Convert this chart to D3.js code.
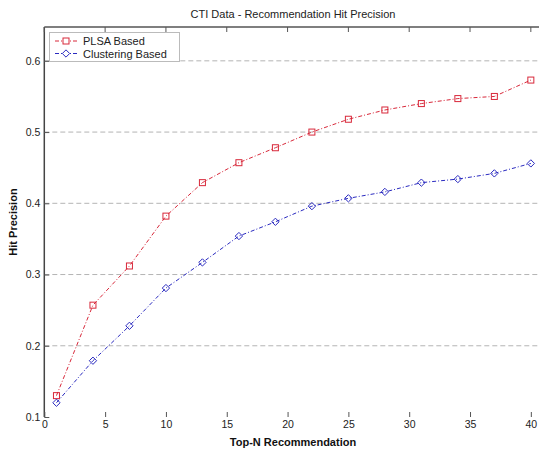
<!DOCTYPE html>
<html><head><meta charset="utf-8">
<script src="https://cdn.jsdelivr.net/npm/d3@7"></script>
<style>body{margin:0;background:#fff;} text{font-family:"Liberation Sans",Arial,sans-serif;}</style>
</head><body><div id="chart"></div>
<script>
const topN = [1,4,7,10,13,16,19,22,25,28,31,34,37,40];
const plsa = [0.130,0.257,0.312,0.382,0.429,0.457,0.478,0.500,0.518,0.531,0.540,0.547,0.550,0.573];
const clustering = [0.120,0.179,0.228,0.281,0.317,0.354,0.374,0.396,0.407,0.416,0.429,0.434,0.442,0.456];
const xTicks = [0,5,10,15,20,25,30,35,40];
const yTicks = [0.1,0.2,0.3,0.4,0.5,0.6];
const seriesNames = ["PLSA Based","Clustering Based"];
const seriesColors = ["#d8283a","#2a2ac0"];

const W=539,H=450;
const m={left:44.3,right:W,top:27,bottom:417};
const svg=d3.select("#chart").append("svg").attr("width",W).attr("height",H);
const x=d3.scaleLinear().domain([0,41]).range([m.left,543]);
const y=d3.scaleLinear().domain([0.1,0.6475]).range([m.bottom,m.top]);

// grid
svg.append("g").selectAll("line").data(yTicks.slice(1)).join("line")
 .attr("x1",m.left).attr("x2",W).attr("y1",d=>y(d)).attr("y2",d=>y(d))
 .attr("stroke","#b4b4b4").attr("stroke-width",1).attr("stroke-dasharray","5,3");

// frame: left and top
svg.append("line").attr("x1",m.left).attr("x2",m.left).attr("y1",m.top).attr("y2",m.bottom).attr("stroke","#444").attr("stroke-width",1.5);
svg.append("line").attr("x1",m.left).attr("x2",W).attr("y1",m.top).attr("y2",m.top).attr("stroke","#555").attr("stroke-width",1.5);

// y axis
const ya=svg.append("g").attr("transform",`translate(${m.left},0)`)
 .call(d3.axisLeft(y).tickValues(yTicks).tickSizeInner(-5).tickSizeOuter(0).tickPadding(4).tickFormat(d3.format(".1f")));
ya.select(".domain").remove();
ya.selectAll("line").attr("stroke","#555");
ya.selectAll("text").attr("font-size",10.5).attr("fill","#222").attr("font-family","Liberation Sans, Arial");

// x axis bottom
const xa=svg.append("g").attr("transform",`translate(0,${m.bottom})`)
 .call(d3.axisBottom(x).tickValues(xTicks).tickSizeInner(-5).tickSizeOuter(0).tickPadding(4).tickFormat(d3.format("d")));
xa.select(".domain").remove();
xa.selectAll("line").attr("stroke","#555");
xa.selectAll("text").attr("font-size",10.5).attr("fill","#222").attr("font-family","Liberation Sans, Arial");
// x ticks top
svg.append("g").selectAll("line").data(xTicks).join("line")
 .attr("x1",d=>x(d)).attr("x2",d=>x(d)).attr("y1",m.top).attr("y2",m.top+5).attr("stroke","#555");

// series
const line=d3.line().x((d,i)=>x(topN[i])).y(d=>y(d));
[plsa,clustering].forEach((s,k)=>{
  svg.append("path").datum(s).attr("d",line).attr("fill","none")
   .attr("stroke",seriesColors[k]).attr("stroke-width",1).attr("stroke-dasharray","4,2,1,2");
});
svg.append("g").selectAll("rect").data(plsa).join("rect")
 .attr("x",(d,i)=>x(topN[i])-3).attr("y",d=>y(d)-3).attr("width",6).attr("height",6)
 .attr("fill","none").attr("stroke",seriesColors[0]).attr("stroke-width",1);
const diamond=d3.symbol().type(d3.symbolDiamond2).size(34);
svg.append("g").selectAll("path").data(clustering).join("path")
 .attr("transform",(d,i)=>`translate(${x(topN[i])},${y(d)})`)
 .attr("d",diamond).attr("fill","none").attr("stroke",seriesColors[1]).attr("stroke-width",1);

// title and labels
svg.append("text").attr("x",293).attr("y",18).attr("text-anchor","middle").attr("font-size",11).attr("fill","#222").text("CTI Data - Recommendation Hit Precision");
svg.append("text").attr("x",293).attr("y",446).attr("text-anchor","middle").attr("font-size",11).attr("font-weight","bold").attr("fill","#111").text("Top-N Recommendation");
svg.append("text").attr("transform",`translate(17,${(m.top+m.bottom)/2}) rotate(-90)`).attr("text-anchor","middle").attr("font-size",11).attr("font-weight","bold").attr("fill","#111").text("Hit Precision");

// legend
const lg=svg.append("g");
lg.append("rect").attr("x",49.5).attr("y",32.5).attr("width",130).attr("height",29).attr("fill","#fff").attr("stroke","#bbb").attr("stroke-width",1);
seriesNames.forEach((n,k)=>{
  const yy=41+k*12.5;
  lg.append("line").attr("x1",55).attr("x2",77).attr("y1",yy).attr("y2",yy).attr("stroke",seriesColors[k]).attr("stroke-width",1).attr("stroke-dasharray","4,2,1,2");
  if(k===0) lg.append("rect").attr("x",63).attr("y",yy-3).attr("width",6).attr("height",6).attr("fill","#fff").attr("stroke",seriesColors[k]);
  else lg.append("path").attr("transform",`translate(66,${yy})`).attr("d",diamond).attr("fill","#fff").attr("stroke",seriesColors[k]);
  lg.append("text").attr("x",83).attr("y",yy+4).attr("font-size",11).attr("fill","#222").text(n);
});
</script></body></html>
